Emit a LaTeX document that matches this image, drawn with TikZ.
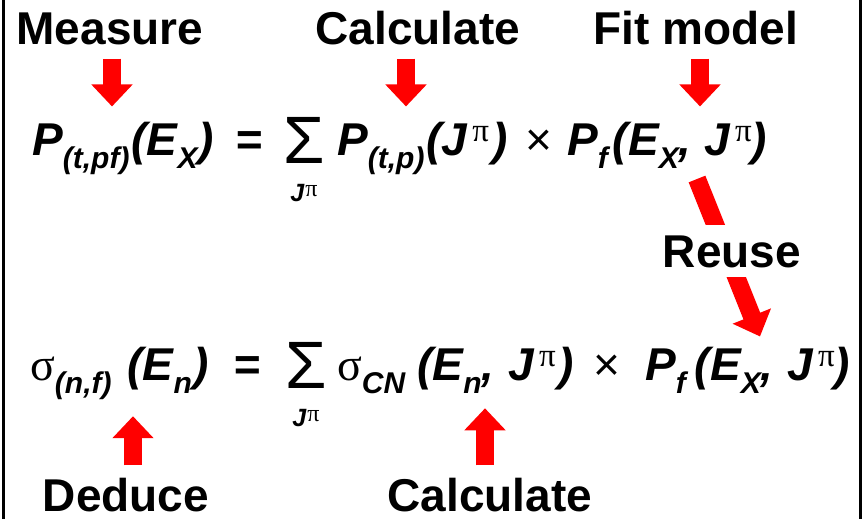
\documentclass[tikz,border=0pt]{standalone}
\usepackage{fontspec}
\setmainfont{Liberation Sans}
\newfontfamily\grk{Liberation Serif}
\usetikzlibrary{arrows.meta,positioning}

% bold italic variable, lowered index, J^pi
\newcommand\vb[1]{{\bfseries\itshape #1}}
\newcommand\lo[1]{\raisebox{-0.3em}{\fontsize{30}{30}\selectfont\bfseries\itshape #1}}
\newcommand\jpi{\vb{J}\kern5pt\raisebox{0.3em}{\fontsize{33}{30}\selectfont\grk π}}
\newcommand\sumsign{{\fontsize{67}{67}\selectfont Σ}}
\newcommand\sumidx{{\fontsize{25}{28}\selectfont\vb{J}\kern1pt\raisebox{0.2em}{\fontsize{24}{20}\selectfont\grk π}}}

\tikzset{
  lbl/.style={font=\fontsize{46}{50}\selectfont\bfseries, inner sep=0pt},
  eqn/.style={font=\fontsize{46}{48}\selectfont, inner sep=0pt, anchor=base west},
  bigarrow/.style={red, line width=18pt, -{Triangle[width=40pt,length=22pt]}},
}

\begin{document}
\begin{tikzpicture}[x=1pt,y=-1pt]
\useasboundingbox (0,0) rectangle (863,519);
\draw[line width=3pt] (3,0) -- (3,519);
\draw[line width=3pt] (860,0) -- (860,519);

% top labels
\node[lbl,anchor=base] (measure) at (110,45) {Measure};
\node[lbl,anchor=base] (calca) at (418,45) {Calculate};
\node[lbl,anchor=base] (fit) at (696,45) {Fit model};

% first equation
\node[eqn] (pa) at (32,155) {\vb{P}\lo{(t,pf)}\kern2pt\vb{(E}\lo{X}\kern1pt\vb{)}};
\node[eqn] (ea) at (235,155) {\vb{=}};
\node[eqn] (suma) at (283,163) {\sumsign};
\node[inner sep=0pt,anchor=base] (ja) at (suma.base |- 0,201) {\sumidx};
\node[eqn] (pb) at (337,155) {\vb{P}\lo{(t,p)}\kern2pt\vb{(}\jpi\kern3pt\vb{)}};
\node[eqn] (ta) at (525,155) {×};
\node[eqn] (pc) at (567,155) {\vb{P}\lo{f}\kern5pt\vb{(E}\lo{X}\vb{,} \jpi\vb{)}};

% second equation
\node[eqn] (sb) at (30,380) {{\grk σ}\lo{(n,f)}\kern16pt\vb{(E}\lo{n}\kern2pt\vb{)}};
\node[eqn] (eb) at (233,380) {\vb{=}};
\node[eqn] (sumb) at (285,388) {\sumsign};
\node[inner sep=0pt,anchor=base] (jb) at (sumb.base |- 0,426) {\sumidx};
\node[eqn] (sc) at (337,380) {{\grk σ}\lo{CN}\kern12pt\vb{(E}\lo{n}\vb{,}\kern14pt\jpi\kern3pt\vb{)}};
\node[eqn] (tb) at (593,380) {×};
\node[eqn] (pd) at (645,380) {\vb{P}\lo{f}\kern9pt\vb{(E}\lo{X}\vb{,}\kern14pt\jpi\vb{)}};

% bottom labels
\node[lbl,anchor=base] (deduce) at (126,511) {Deduce};
\node[lbl,anchor=base] (calcb) at (490,511) {Calculate};

% arrows
\draw[bigarrow,shorten <=13pt,shorten >=15pt] ([xshift=2pt]measure.south) -- ([xshift=2pt]measure.south |- pa.north);
\draw[bigarrow,shorten <=13pt,shorten >=15pt] ([xshift=-12pt]calca.south) -- ([xshift=-12pt]calca.south |- pb.north);
\draw[bigarrow,shorten <=13pt,shorten >=15pt] ([xshift=4pt]fit.south) -- ([xshift=4pt]fit.south |- pc.north);
\draw[bigarrow] ([xshift=130pt,yshift=-10pt]pc.south west) -- node[pos=0.46,fill=white,lbl,text=black,inner xsep=6pt,inner ysep=10pt,xshift=6pt] (reuse) {Reuse} ([xshift=115pt,yshift=10pt]pd.north west);
\draw[bigarrow,shorten <=12pt,shorten >=16pt] ([xshift=7pt]deduce.north) -- ([xshift=7pt]deduce.north |- sb.south);
\draw[bigarrow,shorten <=12pt,shorten >=14pt] ([xshift=-5pt]calcb.north) -- ([xshift=-5pt]calcb.north |- sc.south);
\end{tikzpicture}
\end{document}
